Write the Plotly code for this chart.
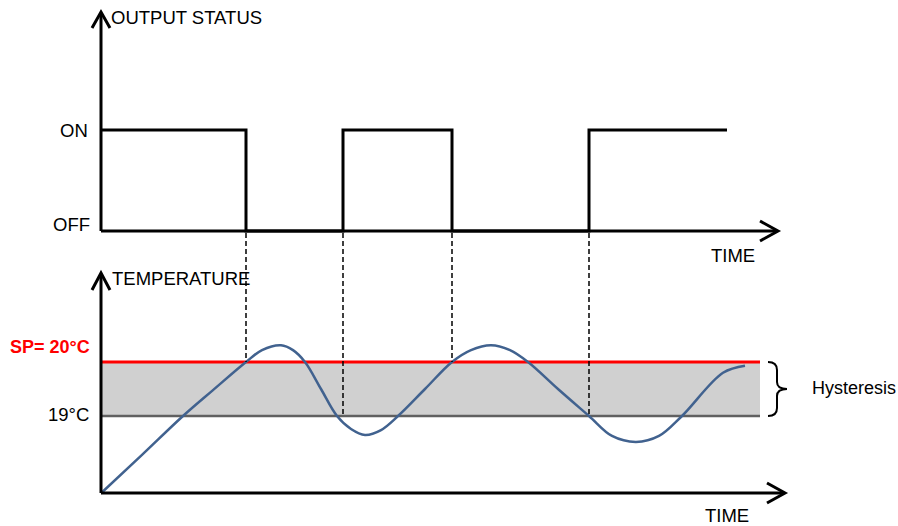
import plotly.graph_objects as go

# output status of the thermostat (1 = ON, 0 = OFF)
status_time = [0, 14.5, 24.2, 35.1, 48.8, 62.6]
status_value = [1, 0, 1, 0, 1, 1]
status_ticks = ["OFF", "ON"]

# measured temperature
temp_time = [0, 4.1, 8.2, 11.2, 14.5, 16.1, 18.0, 19.2, 20.4, 22.0, 23.6, 25.0,
             26.4, 28.0, 29.7, 32.4, 35.1, 37.0, 39.0, 40.9, 42.7, 45.7, 48.8,
             51.1, 53.5, 55.8, 58.1, 62.2, 64.4]
temp_value = [17.57, 18.28, 19.00, 19.48, 20.00, 20.22, 20.31, 20.22, 20.00, 19.50,
              19.00, 18.76, 18.65, 18.74, 19.00, 19.50, 20.00, 20.22, 20.31, 20.22,
              20.00, 19.50, 19.00, 18.63, 18.52, 18.63, 19.00, 19.80, 19.93]

setpoint = 20
lower_limit = 19
band_end = 65.9

# moments where the output switches and the threshold that caused it
switch_times = [14.5, 24.2, 35.1, 48.8]
switch_levels = [20, 19, 20, 19]

# page layout (pixels)
W, H = 898, 526
T0_PX, PX_PER_T = 101, 10
OFF_PX, ON_PX = 231, 130
SP_PX, LOW_PX = 362, 416
AXIS2_PX = 493

FONT = "Liberation Sans, Arial, sans-serif"


def t_at(px):
    return (px - T0_PX) / PX_PER_T


def s_at(py):
    return (OFF_PX - py) / (OFF_PX - ON_PX)


def c_at(py):
    return lower_limit + (LOW_PX - py) / (LOW_PX - SP_PX) * (setpoint - lower_limit)


def pp(px, py):
    return px / W, 1 - py / H


def path(points):
    parts = []
    for i, (x, y) in enumerate(points):
        a, b = pp(x, y)
        parts.append(("M" if i == 0 else "L") + f"{a:.5f},{b:.5f}")
    return " ".join(parts)


fig = go.Figure()

fig.add_trace(go.Scatter(
    x=status_time, y=status_value, mode="lines", line_shape="hv",
    line=dict(color="black", width=3), yaxis="y", hoverinfo="skip"))

fig.add_trace(go.Scatter(
    x=temp_time, y=temp_value, mode="lines", line_shape="spline",
    line=dict(color="#41628f", width=2.5, smoothing=1.0), yaxis="y2",
    hoverinfo="skip"))

shapes = []
# hysteresis band and limits
shapes.append(dict(type="rect", xref="x", yref="y2", x0=0, x1=band_end,
                   y0=lower_limit, y1=setpoint, fillcolor="#d0d0d0",
                   line_width=0, layer="below"))
shapes.append(dict(type="line", xref="x", yref="y2", x0=0, x1=band_end,
                   y0=lower_limit, y1=lower_limit,
                   line=dict(color="#606060", width=2.5), layer="below"))
shapes.append(dict(type="line", xref="x", yref="y2", x0=0, x1=band_end,
                   y0=setpoint, y1=setpoint,
                   line=dict(color="#ff0000", width=3), layer="below"))

# dashed guides from the switching instants down to the thresholds
for t, lvl in zip(switch_times, switch_levels):
    shapes.append(dict(type="line", xref="x", yref="y2", x0=t, x1=t,
                       y0=c_at(OFF_PX + 2), y1=lvl,
                       line=dict(color="black", width=1.5, dash="5px,3px")))

# axes with open arrow heads
axis_style = dict(color="black", width=3)
for pts in [
    [(101, 231), (101, 13)],
    [(92, 28), (101, 12), (110, 28)],
    [(101, 231), (777, 231)],
    [(760, 221), (778, 231), (760, 241)],
    [(101, AXIS2_PX), (101, 274)],
    [(92, 290), (101, 273), (110, 290)],
    [(101, AXIS2_PX), (784, AXIS2_PX)],
    [(767, 483), (785, AXIS2_PX), (767, 503)],
]:
    shapes.append(dict(type="path", xref="paper", yref="paper",
                       path=path(pts), line=axis_style))

# curly brace marking the hysteresis
bx0, bx1, bx2 = 768, 777, 787
mid = (SP_PX + LOW_PX) / 2


def q(p1, p2):
    a, b = pp(*p1)
    c, d = pp(*p2)
    return f"Q{a:.5f},{b:.5f} {c:.5f},{d:.5f}"


def m(p, cmd):
    a, b = pp(*p)
    return f"{cmd}{a:.5f},{b:.5f}"


brace = " ".join([
    m((bx0, SP_PX), "M"), q((bx1, SP_PX), (bx1, SP_PX + 8)),
    m((bx1, mid - 7), "L"), q((bx1, mid), (bx2, mid)),
    q((bx1, mid), (bx1, mid + 7)), m((bx1, LOW_PX - 8), "L"),
    q((bx1, LOW_PX), (bx0, LOW_PX)),
])
shapes.append(dict(type="path", xref="paper", yref="paper", path=brace,
                   line=dict(color="black", width=2)))

fig.update_layout(shapes=shapes)

base_font = dict(family=FONT, size=18.5, color="black")
ann = []


def label(text, px, py, xanchor="left", font=None):
    x, y = pp(px, py)
    ann.append(dict(text=text, x=x, y=y, xref="paper", yref="paper",
                    xanchor=xanchor, yanchor="middle", showarrow=False,
                    font=font or base_font))


label("OUTPUT STATUS", 109, 18)
label("TIME", 733, 255, "center")
label("TEMPERATURE", 110, 278)
label("TIME", 727, 515, "center")
label(status_ticks[1], 90, 131, "right")
label(status_ticks[0], 92, 224, "right")
label(f"SP= {setpoint}°C", 92, 347, "right",
      dict(family=FONT, size=18, color="#ff0000", weight="bold"))
label(f"{lower_limit}°C", 91, 414, "right")
label("Hysteresis", 810, 388, font=dict(family=FONT, size=18, color="black"))
fig.update_layout(annotations=ann)

fig.update_layout(
    width=W, height=H,
    margin=dict(l=0, r=0, t=0, b=0, pad=0, autoexpand=False),
    paper_bgcolor="white", plot_bgcolor="white",
    showlegend=False,
    xaxis=dict(range=[t_at(0), t_at(W)], visible=False, fixedrange=True),
    yaxis=dict(range=[s_at(H), s_at(0)], visible=False, fixedrange=True),
    yaxis2=dict(range=[c_at(H), c_at(0)], visible=False, overlaying="y",
                fixedrange=True),
)

# drop the default page margin so the figure sits at the window's corner
fig.write_html("out.html", config={"displayModeBar": False},
               post_script="document.body.style.margin = '0px';")
